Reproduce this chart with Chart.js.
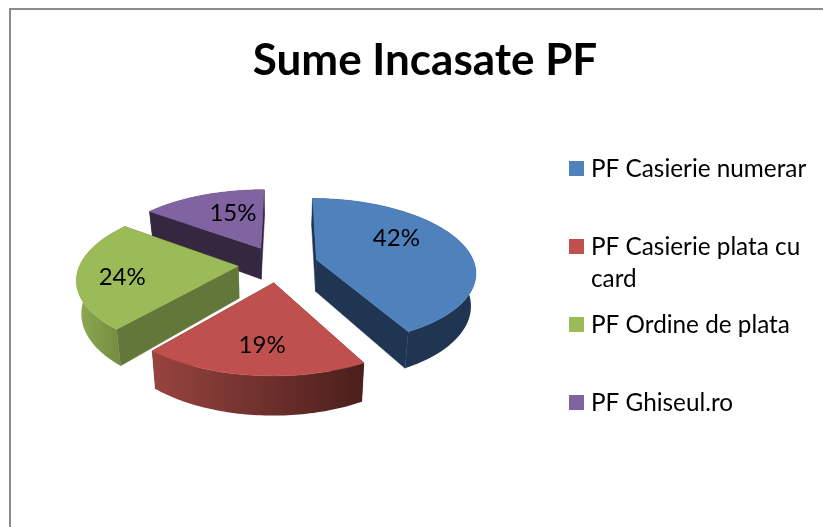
<!DOCTYPE html>
<html><head><meta charset="utf-8">
<style>html,body{margin:0;padding:0;background:#fff}canvas{display:block}</style>
<script src="https://cdn.jsdelivr.net/npm/chart.js@4"></script></head>
<body><canvas id="c" width="823" height="527"></canvas>
<script>
const chartTitle = 'Sume Incasate PF';
const categories = ['PF Casierie numerar', 'PF Casierie plata cu card', 'PF Ordine de plata', 'PF Ghiseul.ro'];
const shares = [42, 19, 24, 15];
const faceColors = ['#4f81bd', '#c0504d', '#9bbb59', '#8064a2'];
const sideColors = ['#1f3552', '#4d1f1d', '#63773a', '#35273f'];
const wallStops = [['#1f3552', '#1f3552'], ['#98433f', '#4a1f1c'], ['#8eab52', '#71893f'], ['#35273f', '#35273f']];
const labelNudge = [[6, -13], [-2, 20], [-36, 7], [3, -7]];
const drawOrder = [3, 0, 2, 1];
const tilt = 0.456, persp = 0.155, depth = 32, shrink = 0.975;
const titleSize = 44, titleTop = 34, titleCentre = 425;
const labelFont = '24px Lato', legendFont = '24.3px Lato';

const pie3d = {
  id: 'pie3d',
  afterLayout(chart) { // the title is centred over the whole figure, not the plot
    chart.titleBlock.left = 0;
    chart.titleBlock.right = titleCentre * 2;
  },
  beforeDraw(chart) {
    const ctx = chart.ctx;
    ctx.save();
    ctx.fillStyle = '#8c8c8c';
    ctx.fillRect(9, 8, chart.width - 9, 2);
    ctx.fillRect(9, 8, 2, chart.height - 8);
    ctx.restore();
  },
  beforeDatasetsDraw(chart) {
    const ctx = chart.ctx, meta = chart.getDatasetMeta(0);
    const R = meta.data[0].outerRadius, cx = meta.data[0].x, cy = meta.data[0].y;
    const proj = (X, Y, low) => {
      const f = 1 / (1 - persp * Y / R);
      let sx = X * f, sy = tilt * Y * f;
      if (low) { sx *= shrink; sy += depth * f; }
      return [cx + sx, cy + sy];
    };
    const info = i => {
      const a = meta.data[i], s = a.startAngle, e = a.endAngle, m = (s + e) / 2, o = a.options.offset;
      return { s, e, m, ox: Math.cos(m) * o, oy: Math.sin(m) * o };
    };
    const arcPts = (g, low) => {
      const pts = [], n = 60;
      for (let k = 0; k <= n; k++) {
        const t = g.s + (g.e - g.s) * k / n;
        pts.push(proj(g.ox + R * Math.cos(t), g.oy + R * Math.sin(t), low));
      }
      return pts;
    };
    const poly = (pts, fill) => {
      ctx.beginPath();
      pts.forEach((p, k) => k ? ctx.lineTo(p[0], p[1]) : ctx.moveTo(p[0], p[1]));
      ctx.closePath();
      ctx.fillStyle = fill;
      ctx.fill();
      ctx.strokeStyle = fill;
      ctx.lineWidth = 0.5;
      if (typeof fill === 'string') ctx.stroke();
    };
    drawOrder.forEach(i => {
      const g = info(i), top = arcPts(g, false), bot = arcPts(g, true);
      const a0 = proj(g.ox, g.oy, false), a1 = proj(g.ox, g.oy, true);
      poly([a0, top[0], bot[0], a1], sideColors[i]);
      poly([a0, top[top.length - 1], bot[bot.length - 1], a1], sideColors[i]);
      const xs = top.map(p => p[0]);
      const gr = ctx.createLinearGradient(Math.min(...xs), 0, Math.max(...xs), 0);
      gr.addColorStop(0, wallStops[i][0]);
      gr.addColorStop(1, wallStops[i][1]);
      poly(top.concat(bot.slice().reverse()), gr);
      poly([a0].concat(top), chart.data.datasets[0].backgroundColor[i]);
    });
    ctx.save();
    ctx.font = labelFont;
    ctx.fillStyle = '#000';
    ctx.textAlign = 'center';
    ctx.textBaseline = 'middle';
    shares.forEach((v, i) => {
      const g = info(i);
      const p = proj(g.ox + R * 0.5 * Math.cos(g.m), g.oy + R * 0.5 * Math.sin(g.m), false);
      ctx.fillText(v + '%', p[0] + labelNudge[i][0], p[1] + labelNudge[i][1]);
    });
    ctx.restore();
    return false;
  },
  afterDraw(chart) {
    const ctx = chart.ctx;
    ctx.save();
    ctx.font = legendFont;
    ctx.textBaseline = 'middle';
    chart.data.labels.forEach((label, i) => {
      const y = 161 + i * 78;
      ctx.fillStyle = faceColors[i];
      ctx.fillRect(569, y, 15, 15);
      ctx.fillStyle = '#000';
      const lines = [''];
      label.split(' ').forEach(w => {
        const t = lines[lines.length - 1] ? lines[lines.length - 1] + ' ' + w : w;
        if (ctx.measureText(t).width > 225) lines.push(w); else lines[lines.length - 1] = t;
      });
      lines.forEach((l, k) => ctx.fillText(l, 591, y + 8 + k * 32));
    });
    ctx.restore();
  }
};

new Chart(document.getElementById('c'), {
  type: 'pie',
  data: { labels: categories, datasets: [{ data: shares, backgroundColor: faceColors, borderWidth: 0, offset: 40 }] },
  options: {
    responsive: false,
    animation: false,
    rotation: 0.5,
    radius: 158,
    layout: { padding: { left: 0, right: 267, top: 0, bottom: titleTop + titleSize * 1.2 - 1 } },
    plugins: {
      legend: { display: false },
      tooltip: { enabled: false },
      title: { display: true, text: chartTitle, color: '#000',
        font: { family: 'Lato', weight: 'bold', size: titleSize, lineHeight: 1.2 },
        padding: { top: titleTop, bottom: 0 } }
    }
  },
  plugins: [pie3d]
});
</script></body></html>
